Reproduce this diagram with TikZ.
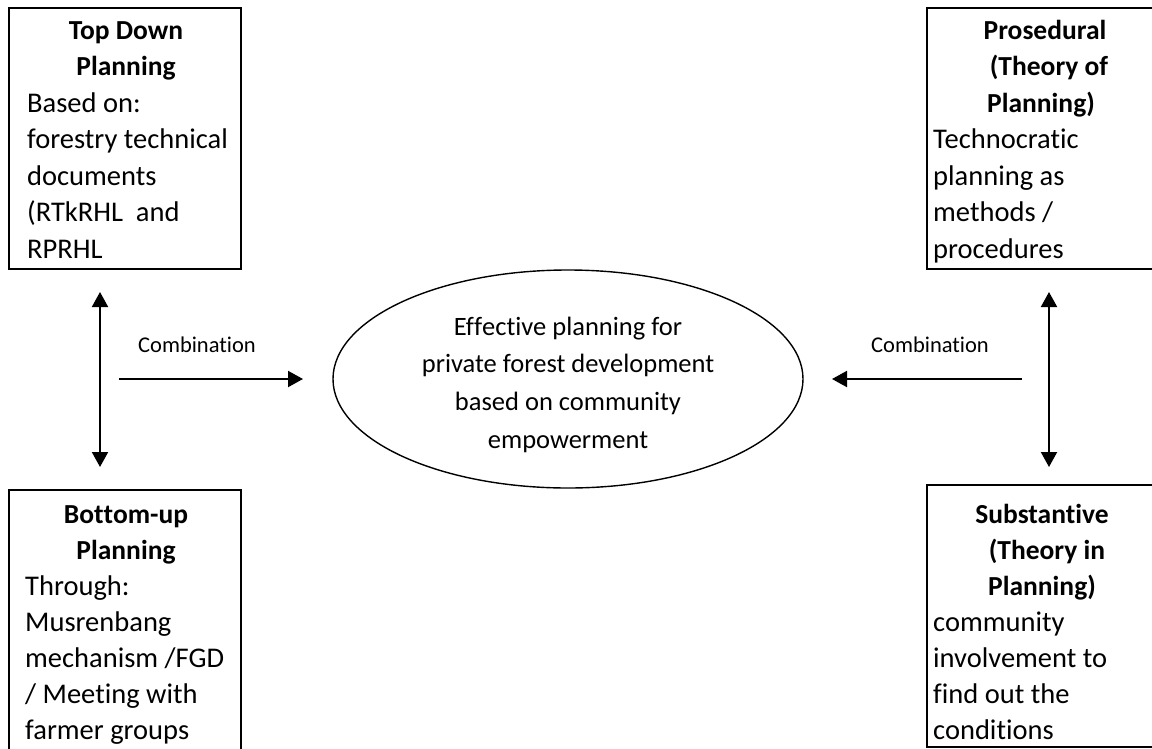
\documentclass[tikz,border=0pt]{standalone}
\usepackage{fontspec}
\setmainfont{Carlito}[Ligatures={NoCommon,NoRequired,NoContextual,NoRare}]
\usetikzlibrary{arrows.meta,shapes.geometric}
\newcommand\nolig{\kern0pt }
\begin{document}
\begin{tikzpicture}[x=1pt,y=-1pt,
  boxframe/.style={draw, line width=1.6pt},
  ttl/.style={font=\fontsize{27.5}{36.5}\selectfont\bfseries, anchor=base, inner sep=0pt},
  bodytext/.style={font=\fontsize{28.5}{36.5}\selectfont, anchor=base west, inner sep=0pt},
  midtext/.style={font=\fontsize{26.5}{36}\selectfont, anchor=base, inner sep=0pt},
  combo/.style={font=\fontsize{22.5}{27}\selectfont, anchor=base, inner sep=0pt},
  arr/.style={line width=2pt, -{Triangle[length=15pt,width=16pt]}},
  darr/.style={line width=2pt, {Triangle[length=15pt,width=16pt]}-{Triangle[length=15pt,width=16pt]}},
  ]
\useasboundingbox (0,0) rectangle (1152,748);
\clip (0,0) rectangle (1152,748);

% boxes
\draw[boxframe] (9,8) rectangle (241,269);
\draw[boxframe] (9,490) rectangle (241,760);
\draw[boxframe] (927,8) rectangle (1165,269);
\draw[boxframe] (927,485) rectangle (1165,747);

% top-left box
\node[ttl] (tlt1) at (126,39) {Top Down};
\node[ttl] (tlt2) at (126,75.5) {Planning};
\foreach \t [count=\i] in {{Based on:},{forestry technical},{documents},{(RTkRHL\ \ and},{RPRHL}}
  \node[bodytext] (tlb\i) at (27,{112+36.5*(\i-1)}) {\t};

% top-right box
\node[ttl] (trt1) at (1045,39) {Prosedural};
\node[ttl] (trt2) at (1049,75.5) {(Theory of};
\node[ttl] (trt3) at (1041,112) {Planning)};
\foreach \t [count=\i] in {{Technocrat\nolig ic},{planning as},{methods /},{procedures}}
  \node[bodytext] (trb\i) at (933,{148.5+36.5*(\i-1)}) {\t};

% bottom-left box
\node[ttl] (blt1) at (126,523) {Bot\nolig tom-up};
\node[ttl] (blt2) at (126,559) {Planning};
\foreach \t [count=\i] in {{Through:},{Musrenbang},{mechanism /FGD},{/ Meeting with},{farmer groups}}
  \node[bodytext] (blb\i) at (25,{595+36*(\i-1)}) {\t};

% bottom-right box
\node[ttl] (brt1) at (1042,523) {Substant\nolig ive};
\node[ttl] (brt2) at (1047,559) {(Theory in};
\node[ttl] (brt3) at (1042,595) {Planning)};
\foreach \t [count=\i] in {{community},{involvement to},{f\nolig ind out the},{condit\nolig ions}}
  \node[bodytext] (brb\i) at (933,{631+36*(\i-1)}) {\t};

% central ellipse
\node[draw, ellipse, line width=1.4pt, minimum width=470pt, minimum height=218pt, inner sep=0pt] (goal) at (568,379) {};
\foreach \t [count=\i] in {{Ef\nolig f\nolig ect\nolig ive planning for},{private forest development},{based on community},{empowerment}}
  \node[midtext] (g\i) at (568,{335+37.7*(\i-1)}) {\t};

% connectors
\coordinate (lv1) at (100,292);
\coordinate (lv2) at (100,467);
\coordinate (rv1) at (1049,292);
\coordinate (rv2) at (1049,467);
\coordinate (lh1) at (119,379);
\coordinate (lh2) at (303,379);
\coordinate (rh1) at (1022,379);
\coordinate (rh2) at (832,379);
\draw[darr] (lv1) -- (lv2);
\draw[darr] (rv1) -- (rv2);
\draw[arr] (lh1) -- (lh2);
\draw[arr] (rh1) -- (rh2);
\node[combo] (cl) at (197,352) {Combinat\nolig ion};
\node[combo] (cr) at (930,352) {Combinat\nolig ion};
\end{tikzpicture}
\end{document}
